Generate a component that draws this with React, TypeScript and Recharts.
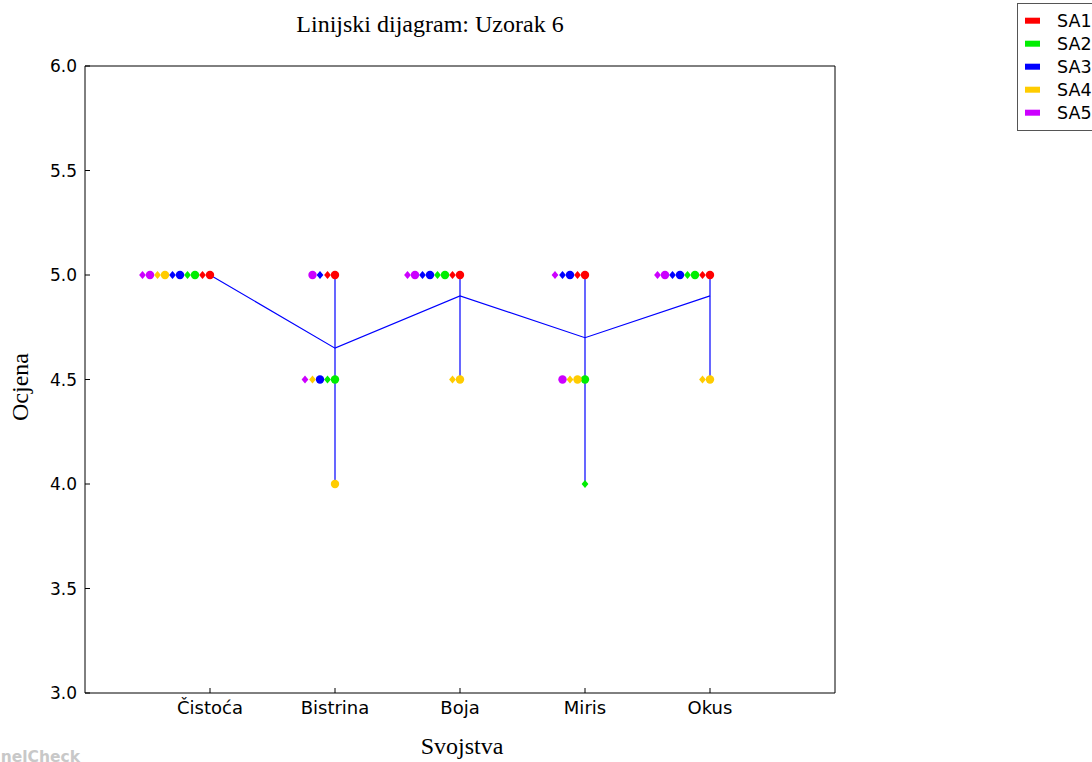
import { ComposedChart, Scatter, Line, XAxis, YAxis } from 'recharts'

// Sensory attributes scored for sample 6
const categories = ['Čistoća', 'Bistrina', 'Boja', 'Miris', 'Okus']
const assessors = ['SA1', 'SA2', 'SA3', 'SA4', 'SA5']
const assessorColors = ['#ff0000', '#00ee00', '#0000ff', '#ffcc00', '#cc00ff']

// replicate 1 (circles) and replicate 2 (diamonds), one row per assessor
const rep1Scores = [
  [5, 5, 5, 5, 5],
  [5, 4.5, 5, 4.5, 5],
  [5, 4.5, 5, 5, 5],
  [5, 4, 4.5, 4.5, 4.5],
  [5, 5, 5, 4.5, 5],
]
const rep2Scores = [
  [5, 5, 5, 5, 5],
  [5, 4.5, 5, 4, 5],
  [5, 5, 5, 5, 5],
  [5, 4.5, 4.5, 4.5, 4.5],
  [5, 4.5, 5, 5, 5],
]

const yTicks = [3, 3.5, 4, 4.5, 5, 5.5, 6]
const xTicks = categories.map((_, i) => i + 1)

// equal scores at one attribute are shifted left so they don't overlap
const STACK_STEP = 0.06

type Pt = { x: number; y: number }

const stackCount: Record<string, number> = {}
const replicatePoints: { assessor: number; rep: number; data: Pt[] }[] = []
assessors.forEach((_, a) => {
  ;[rep1Scores, rep2Scores].forEach((rep, r) => {
    const data = rep[a].map((score, c) => {
      const key = `${c}:${score}`
      const rank = stackCount[key] ?? 0
      stackCount[key] = rank + 1
      return { x: c + 1 - rank * STACK_STEP, y: score }
    })
    replicatePoints.push({ assessor: a, rep: r, data })
  })
})

const allScores = (c: number) => [...rep1Scores, ...rep2Scores].map((row) => row[c])

const meanData: Pt[] = categories.map((_, c) => {
  const s = allScores(c)
  return { x: c + 1, y: s.reduce((t, v) => t + v, 0) / s.length }
})

const rangeData: Pt[][] = categories
  .map((_, c) => {
    const s = allScores(c)
    return [
      { x: c + 1, y: Math.min(...s) },
      { x: c + 1, y: Math.max(...s) },
    ]
  })
  .filter((seg) => seg[0].y !== seg[1].y)

const circleShape = (color: string) => (p: any) =>
  <circle cx={p.cx} cy={p.cy} r={4.2} fill={color} />

const diamondShape = (color: string) => (p: any) =>
  (
    <polygon
      points={`${p.cx},${p.cy - 4} ${p.cx + 3.4},${p.cy} ${p.cx},${p.cy + 4} ${p.cx - 3.4},${p.cy}`}
      fill={color}
    />
  )

const yTickFont = { fill: '#000', fontSize: 17, fontFamily: 'DejaVu Sans' }
const xTickFont = { fill: '#000', fontSize: 18, fontFamily: 'DejaVu Sans' }
const serif = 'Liberation Serif'

export default function App() {
  return (
    <div style={{ position: 'absolute', left: 0, top: 0, width: 1092, height: 762, overflow: 'hidden', background: '#fff' }}>
      <ComposedChart width={1092} height={762} margin={{ top: 65, right: 256, bottom: 39, left: 45 }}>
        <XAxis
          type="number"
          dataKey="x"
          domain={[0, 6]}
          ticks={xTicks}
          interval={0}
          tickFormatter={(v) => categories[v - 1]}
          height={30}
          axisLine={{ stroke: '#000' }}
          tickLine={{ stroke: '#000' }}
          tickSize={-5}
          tickMargin={13}
          tick={xTickFont}
        />
        <XAxis
          xAxisId="top"
          orientation="top"
          type="number"
          domain={[0, 6]}
          ticks={xTicks}
          interval={0}
          height={1}
          axisLine={{ stroke: '#000' }}
          tickLine={{ stroke: '#000' }}
          tickSize={-5}
          tick={false}
        />
        <YAxis
          type="number"
          dataKey="y"
          domain={[3, 6]}
          ticks={yTicks}
          interval={0}
          tickFormatter={(v) => v.toFixed(1)}
          width={40}
          axisLine={{ stroke: '#000' }}
          tickLine={{ stroke: '#000' }}
          tickSize={-5}
          tickMargin={13}
          tick={yTickFont}
        />
        <YAxis
          yAxisId="right"
          orientation="right"
          type="number"
          domain={[3, 6]}
          ticks={yTicks}
          interval={0}
          width={1}
          axisLine={{ stroke: '#000' }}
          tickLine={{ stroke: '#000' }}
          tickSize={-5}
          tick={false}
        />

        {replicatePoints.map(({ assessor, rep, data }) => (
          <Scatter
            key={`${assessor}-${rep}`}
            data={data}
            dataKey="y"
            isAnimationActive={false}
            shape={rep === 0 ? circleShape(assessorColors[assessor]) : diamondShape(assessorColors[assessor])}
          />
        ))}

        {rangeData.map((seg, i) => (
          <Line
            key={`range-${i}`}
            data={seg}
            dataKey="y"
            stroke="#0000ff"
            strokeWidth={1.2}
            dot={false}
            isAnimationActive={false}
          />
        ))}
        <Line
          data={meanData}
          dataKey="y"
          stroke="#0000ff"
          strokeWidth={1.2}
          dot={false}
          isAnimationActive={false}
        />
      </ComposedChart>

      <svg width={1092} height={762} style={{ position: 'absolute', left: 0, top: 0, pointerEvents: 'none' }}>
        <text x={430} y={32} textAnchor="middle" fontFamily={serif} fontSize={24} fill="#000">
          Linijski dijagram: Uzorak 6
        </text>
        <text x={462} y={754} textAnchor="middle" fontFamily={serif} fontSize={24} fill="#000">
          Svojstva
        </text>
        <text
          x={0}
          y={0}
          transform="translate(28,387) rotate(-90)"
          textAnchor="middle"
          fontFamily={serif}
          fontSize={24}
          fill="#000"
        >
          Ocjena
        </text>
        {/* software watermark, runs off the left edge */}
        <text x={80} y={762} textAnchor="end" fontFamily="DejaVu Sans" fontWeight="bold" fontSize={15.5} fill="#c8c8c8">
          PanelCheck
        </text>

        <rect x={1017.5} y={3.5} width={100} height={127} fill="#fff" stroke="#555" />
        {assessors.map((name, i) => (
          <g key={name}>
            <rect x={1025} y={17.7 + i * 23} width={15} height={6} fill={assessorColors[i]} />
            <text x={1057} y={27 + i * 23} fontFamily="DejaVu Sans" fontSize={17.5} fill="#000">
              {name}
            </text>
          </g>
        ))}
      </svg>
    </div>
  )
}
